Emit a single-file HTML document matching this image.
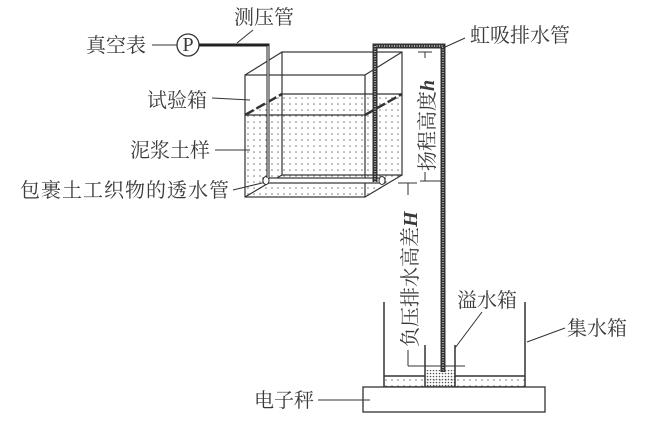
<!DOCTYPE html>
<html><head><meta charset="utf-8"><style>
html,body{margin:0;padding:0;background:#fff;}
svg{display:block;}
text{font-family:"Liberation Serif","Noto Serif CJK SC",serif;fill:#3a3a3a;font-size:20px;}
</style></head><body>
<svg width="650" height="422" viewBox="0 0 650 422" xmlns="http://www.w3.org/2000/svg">
<defs>
<pattern id="dots" width="6" height="6" patternUnits="userSpaceOnUse"><circle cx="2" cy="2" r="0.8" fill="#777"/></pattern>
<pattern id="dense" width="3" height="3" patternUnits="userSpaceOnUse"><circle cx="1.5" cy="1.5" r="0.8" fill="#555"/></pattern>
</defs>
<g stroke="#333" stroke-width="1.2" fill="none">
<polygon points="245,115 282,94 402,94 402,175 365,197 245,197" fill="url(#dots)" stroke="none"/>
<rect x="282" y="52" width="120" height="123"/>
<rect x="245" y="75" width="120" height="122"/>
<line x1="245" y1="75" x2="282" y2="52"/>
<line x1="365" y1="75" x2="402" y2="52"/>
<line x1="245" y1="197" x2="282" y2="175"/>
<line x1="365" y1="197" x2="402" y2="175"/>
<line x1="245" y1="115" x2="365" y2="115"/>
<line x1="282" y1="94" x2="402" y2="94"/>
<line x1="245" y1="115" x2="282" y2="94" stroke-width="2.5" stroke-dasharray="10 3"/>
<line x1="365" y1="115" x2="402" y2="94" stroke-width="2.5" stroke-dasharray="10 3"/>
</g>
<rect x="263" y="178" width="122" height="5" fill="#fff" stroke="#333" stroke-width="1.2"/>
<ellipse cx="266" cy="180.5" rx="3" ry="4" fill="#fff" stroke="#333"/>
<ellipse cx="382" cy="180.5" rx="3" ry="4" fill="#fff" stroke="#333"/>
<circle cx="188" cy="45" r="11" fill="#fff" stroke="#333" stroke-width="1.3"/>
<text x="188" y="51" text-anchor="middle" font-size="16">P</text>
<polyline points="199,45 268,45 268,178" fill="none" stroke="#222" stroke-width="3"/>
<line x1="268" y1="46" x2="268" y2="178" stroke="#fff" stroke-width="1"/>
<path d="M375,182 V46 H443 V372" fill="none" stroke="#333" stroke-width="5"/>
<path d="M375,182 V46 H443 V372" fill="none" stroke="#aaa" stroke-width="2" stroke-dasharray="1 1.5"/>
<g stroke="#333" stroke-width="1">
<line x1="425" y1="52" x2="425" y2="58"/>
<line x1="418" y1="52" x2="432" y2="52"/>
<line x1="425" y1="172" x2="425" y2="181"/>
<line x1="420" y1="181" x2="441" y2="181"/>
<line x1="398" y1="183" x2="417" y2="183"/>
<line x1="408" y1="183" x2="408" y2="195"/>
<line x1="408" y1="350" x2="408" y2="366"/>
<line x1="408" y1="366" x2="465" y2="366"/>
</g>
<rect x="384" y="376" width="141" height="11" fill="url(#dots)"/>
<rect x="425" y="370" width="30" height="17" fill="url(#dense)"/>
<g stroke="#333" stroke-width="1.5" fill="none">
<polyline points="384,302 384,387 525,387 525,302"/>
<polyline points="425,345 425,387"/>
<polyline points="455,345 455,387"/>
<line x1="384" y1="376" x2="425" y2="376"/>
<line x1="455" y1="376" x2="525" y2="376"/>
</g>
<rect x="363" y="387" width="182" height="25" fill="#fff" stroke="#333" stroke-width="1.3"/>
<g stroke="#333" stroke-width="1">
<line x1="152" y1="45" x2="177" y2="45"/>
<line x1="253" y1="30" x2="237" y2="43"/>
<line x1="212" y1="98" x2="250" y2="100"/>
<line x1="215" y1="150" x2="250" y2="150"/>
<line x1="233" y1="190" x2="262" y2="183"/>
<line x1="443" y1="48" x2="465" y2="38"/>
<line x1="455" y1="348" x2="482" y2="312"/>
<line x1="527" y1="342" x2="565" y2="328"/>
<line x1="318" y1="400" x2="370" y2="400"/>
</g>
<text x="234" y="24">测压管</text>
<text x="86" y="52">真空表</text>
<text x="147" y="107">试验箱</text>
<text x="130" y="157">泥浆土样</text>
<text x="20" y="197" letter-spacing="1">包裹土工织物的透水管</text>
<text x="470" y="42">虹吸排水管</text>
<text x="457" y="307">溢水箱</text>
<text x="567" y="335">集水箱</text>
<text x="254" y="407">电子秤</text>
<text transform="translate(434,171) rotate(-90)">扬程高度<tspan font-style="italic" font-weight="bold">h</tspan></text>
<text transform="translate(417,347) rotate(-90)">负压排水高差<tspan font-style="italic" font-weight="bold">H</tspan></text>
</svg>
</body></html>
